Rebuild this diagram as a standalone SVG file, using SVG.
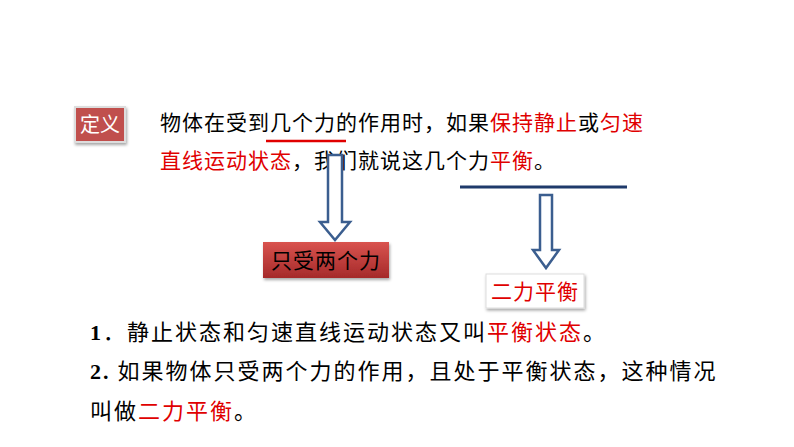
<svg xmlns="http://www.w3.org/2000/svg" width="794" height="447" viewBox="0 0 794 447">
<defs>
<linearGradient id="rg" x1="0" y1="0" x2="0" y2="1"><stop offset="0" stop-color="#d9534f"/><stop offset="1" stop-color="#a52a2a"/></linearGradient>
<filter id="sh" x="-20%" y="-20%" width="140%" height="150%"><feDropShadow dx="1" dy="2" stdDeviation="1.5" flood-opacity="0.35"/></filter>
</defs>
<style>
text{font-family:"Noto Sans CJK SC","Liberation Sans",sans-serif;font-size:21px;fill:#000}
.p{letter-spacing:1px}
.b{font-size:22px;letter-spacing:2px}
.r{fill:#e00000}
.num{font-family:"Liberation Serif",serif;font-weight:bold}
.arr{fill:#fff;stroke:#3b5e8f;stroke-width:2.5}
</style>
<rect width="794" height="447" fill="#fff"/>
<g id="def"><rect x="75" y="107" width="50" height="35" fill="#c0504d" stroke="#ddd" stroke-width="2" filter="url(#sh)"/><text x="100" y="132" text-anchor="middle" style="fill:#fff;font-size:20px">定义</text></g>
<g id="para">
<text class="p" x="160" y="130">物体在受到几个力的作用时，如果<tspan class="r">保持静止</tspan>或<tspan class="r">匀速</tspan></text>
<text class="p" x="160" y="168"><tspan class="r">直线运动状态</tspan>，我们就说这几个力<tspan class="r">平衡</tspan>。</text>
</g>
<g id="marks"><line x1="266" y1="141" x2="346" y2="141" stroke="#e00000" stroke-width="2.5"/><line x1="460" y1="187" x2="627" y2="187" stroke="#1f3a6b" stroke-width="3"/></g>
<g id="connectors">
<path class="arr" d="M328 155 H342 V222 H350 L335 240 L320 222 H328 Z"/>
<path class="arr" d="M540 195 H552 V250 H559 L546 268 L533 250 H540 Z"/>
</g>
<g id="n1"><rect x="263" y="242" width="126" height="36" fill="url(#rg)" filter="url(#sh)"/><text x="326" y="268" text-anchor="middle" style="letter-spacing:1px">只受两个力</text></g>
<g id="n2"><rect x="486" y="274" width="98" height="34" fill="#fff" stroke="#ddd" filter="url(#sh)"/><text x="535" y="299" text-anchor="middle" class="r" style="letter-spacing:1px">二力平衡</text></g>
<g id="notes">
<text class="b" x="90" y="340"><tspan class="num">1</tspan>．静止状态和匀速直线运动状态又叫<tspan class="r">平衡状态</tspan>。</text>
<text class="b" x="90" y="379"><tspan class="num">2.</tspan>  如果物体只受两个力的作用，且处于平衡状态，这种情况</text>
<text class="b" x="90" y="419">叫做<tspan class="r">二力平衡</tspan>。</text>
</g>
</svg>
